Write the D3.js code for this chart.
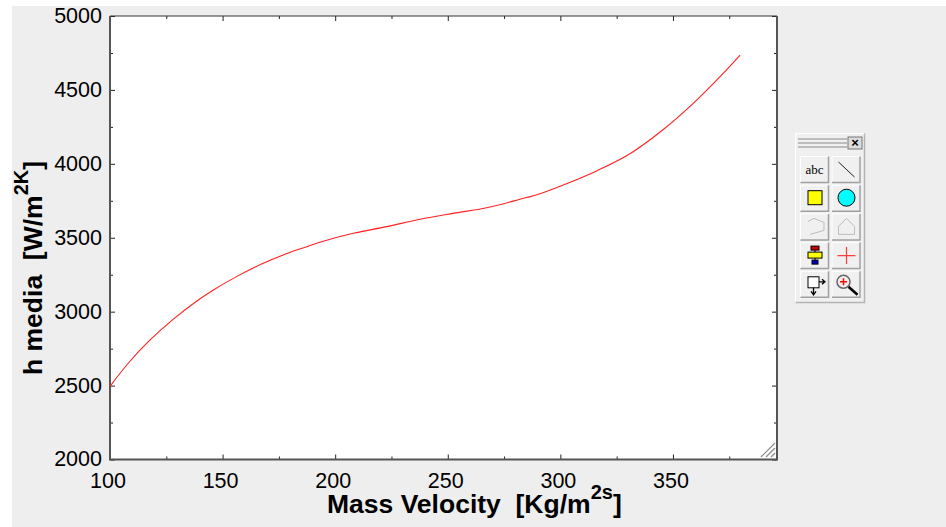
<!DOCTYPE html>
<html>
<head>
<meta charset="utf-8">
<script src="https://cdn.jsdelivr.net/npm/d3@7"></script>
<style>
html,body{margin:0;padding:0;background:#fff;overflow:hidden}
svg{display:block}
text{font-family:"Liberation Sans",Arial,sans-serif;fill:#000;white-space:pre}
.tick text{font-size:21.5px}
.title{font-size:26.5px;font-weight:bold}
.sup{font-size:20px}
</style>
</head>
<body>
<div id="chart"></div>
<script>
// values
var massVelocity = [100,108.1,117,128,139.2,145.9,156.2,167.3,179.2,186.6,193.2,208,222.8,237.7,252.4,267.3,282,290.9,301.3,316.1,330.9,345.7,359,372.3,379.8];
var hMedia = [2495,2651,2797,2948,3079,3147,3237,3322,3397,3436,3470,3530,3575,3625,3665,3703,3760,3798,3857,3952,4068,4232,4409,4612,4736];
var xMajor = [100,150,200,250,300,350];
var xMinor = [125,175,225,275,325,375];
var yMajor = [2000,2500,3000,3500,4000,4500,5000];
var yMinor = [2250,2750,3250,3750,4250,4750];
var toolButtons = ["abc","line","rect","circle","polyline","polygon","flow","cross","export","zoom"];

var width = 946, height = 527;
var plot = {left:110,right:777,top:16,bottom:459.5};

var svg = d3.select("#chart").append("svg")
    .attr("width",width)
    .attr("height",height);

svg.append("rect").attr("x",12).attr("y",6)
    .attr("width",width-12).attr("height",height-6)
    .attr("fill","#eeeeee");

svg.append("rect").attr("x",plot.left).attr("y",plot.top)
    .attr("width",plot.right-plot.left).attr("height",plot.bottom-plot.top)
    .attr("fill","#fff");

var x = d3.scaleLinear().domain([100,396.2]).range([plot.left,plot.right]);
var y = d3.scaleLinear().domain([2000,5000]).range([plot.bottom,plot.top]);

function styleAxis(g){
    g.select(".domain").remove();
    g.selectAll("line").attr("stroke","#222").attr("stroke-width",1);
}

//major ticks with labels
svg.append("g").attr("transform","translate(0,"+plot.bottom+")")
    .call(d3.axisBottom(x).tickValues(xMajor).tickFormat(d3.format("d")).tickSize(-5).tickPadding(13.5))
    .call(styleAxis)
    .call(g => g.selectAll("text").attr("dx",-2.5).attr("font-family",null).attr("font-size",null));
svg.append("g").attr("transform","translate("+plot.left+",0)")
    .call(d3.axisLeft(y).tickValues(yMajor).tickFormat(d3.format("d")).tickSize(-5).tickPadding(8))
    .call(styleAxis)
    .call(g => g.selectAll("text").attr("dy","0.3em").attr("font-family",null).attr("font-size",null));

//minor ticks, and the same marks on the top and right edges
svg.append("g").attr("transform","translate(0,"+plot.bottom+")")
    .call(d3.axisBottom(x).tickValues(xMinor).tickFormat("").tickSize(-3)).call(styleAxis);
svg.append("g").attr("transform","translate("+plot.left+",0)")
    .call(d3.axisLeft(y).tickValues(yMinor).tickFormat("").tickSize(-3)).call(styleAxis);
svg.append("g").attr("transform","translate(0,"+plot.top+")")
    .call(d3.axisTop(x).tickValues(xMajor).tickFormat("").tickSize(-5)).call(styleAxis);
svg.append("g").attr("transform","translate(0,"+plot.top+")")
    .call(d3.axisTop(x).tickValues(xMinor).tickFormat("").tickSize(-3)).call(styleAxis);
svg.append("g").attr("transform","translate("+plot.right+",0)")
    .call(d3.axisRight(y).tickValues(yMajor).tickFormat("").tickSize(-5)).call(styleAxis);
svg.append("g").attr("transform","translate("+plot.right+",0)")
    .call(d3.axisRight(y).tickValues(yMinor).tickFormat("").tickSize(-3)).call(styleAxis);

//frame
svg.append("path").attr("fill","none").attr("stroke","#333").attr("stroke-width",1.2)
    .attr("d","M"+plot.left+","+plot.top+"H"+plot.right);
svg.append("path").attr("fill","none").attr("stroke","#555").attr("stroke-width",2)
    .attr("d","M"+plot.left+","+plot.top+"V"+plot.bottom+"H"+plot.right+"V"+plot.top);

//curve
var line = d3.line().x((d,i) => x(massVelocity[i])).y(d => y(d)).curve(d3.curveCatmullRom);
svg.append("path").datum(hMedia)
    .attr("fill","none").attr("stroke","#ff2020").attr("stroke-width",1.1)
    .attr("d",line);

//resize grip
var grip = svg.append("g").attr("stroke","#8c8c8c").attr("stroke-width",1.2);
[0,5,10].forEach(function(o){
    grip.append("line").attr("x1",761+o).attr("y1",457).attr("x2",775).attr("y2",443+o);
});

//titles
var xTitle = svg.append("text").attr("class","title").attr("x",327).attr("y",512.5);
xTitle.append("tspan").text("Mass Velocity  [Kg/m");
xTitle.append("tspan").attr("class","sup").attr("dy",-14).text("2s");
xTitle.append("tspan").attr("dy",14).text("]");

var yTitle = svg.append("text").attr("class","title")
    .attr("transform","translate(41.5,375) rotate(-90)");
yTitle.append("tspan").text("h media  [W/m");
yTitle.append("tspan").attr("class","sup").attr("dy",-14).text("2K");
yTitle.append("tspan").attr("dy",14).text("]");

//floating toolbar
var tb = svg.append("g").attr("transform","translate(795,133)");
tb.append("rect").attr("width",70).attr("height",170).attr("fill","#f0f0f0");
tb.append("path").attr("d","M0.5,169.5V0.5H69.5").attr("fill","none").attr("stroke","#fff");
tb.append("path").attr("d","M0.5,169.5H69.5V0.5").attr("fill","none").attr("stroke","#b4b4b4").attr("stroke-width",1.5);
[5,9,13].forEach(function(o){
    tb.append("line").attr("x1",3).attr("x2",52).attr("y1",o+1).attr("y2",o+1).attr("stroke","#8a8a8a");
});
tb.append("rect").attr("x",53).attr("y",4).attr("width",14).attr("height",12).attr("fill","#ddd").attr("stroke","#777");
tb.append("text").attr("x",60).attr("y",14).attr("text-anchor","middle")
    .style("font-size","13px").style("font-weight","bold").text("×");

var cell = tb.selectAll("g.btn").data(toolButtons).enter().append("g")
    .attr("class","btn")
    .attr("transform",(d,i) => "translate("+(5+(i%2)*31.5)+","+(23+Math.floor(i/2)*28.7)+")");
cell.append("rect").attr("width",29).attr("height",27).attr("fill","#f0f0f0");
cell.append("path").attr("d","M0.5,26.5V0.5H28.5").attr("fill","none").attr("stroke","#fff");
cell.append("path").attr("d","M0.5,26.5H28.5V0.5").attr("fill","none").attr("stroke","#a0a0a0").attr("stroke-width",1.5);

function drawIcon(name,g){
    if(name=="abc"){
        g.append("text").attr("x",14.5).attr("y",18).attr("text-anchor","middle")
            .style("font-family","Liberation Serif").style("font-size","13px").text("abc");
    }else if(name=="line"){
        g.append("line").attr("x1",7).attr("y1",6).attr("x2",23).attr("y2",21).attr("stroke","#222");
    }else if(name=="rect"){
        g.append("rect").attr("x",8).attr("y",6).attr("width",14).attr("height",14).attr("fill","#ffff00").attr("stroke","#000");
    }else if(name=="circle"){
        g.append("circle").attr("cx",15).attr("cy",13).attr("r",8.5).attr("fill","#00ffff").attr("stroke","#000");
    }else if(name=="polyline"){
        g.append("path").attr("d","M8,8L14,5L24,9V17L10,21").attr("fill","none").attr("stroke","#bdbdbd");
    }else if(name=="polygon"){
        g.append("path").attr("d","M15,5L23,13V21H7V13Z").attr("fill","none").attr("stroke","#bdbdbd");
    }else if(name=="flow"){
        g.append("line").attr("x1",15).attr("y1",4).attr("x2",15).attr("y2",22).attr("stroke","#000");
        g.append("rect").attr("x",11).attr("y",4).attr("width",8).attr("height",4).attr("fill","#d00000").attr("stroke","#000");
        g.append("rect").attr("x",8).attr("y",10).attr("width",14).attr("height",6).attr("fill","#ffff00").attr("stroke","#000");
        g.append("rect").attr("x",12).attr("y",18).attr("width",6).attr("height",4).attr("fill","#0000c0").attr("stroke","#000");
    }else if(name=="cross"){
        g.append("path").attr("d","M15,5V22M6,13.5H24").attr("stroke","#ff3b3b").attr("stroke-width",1.2);
    }else if(name=="export"){
        g.append("rect").attr("x",8).attr("y",6).attr("width",11).attr("height",11).attr("fill","#fff").attr("stroke","#000");
        g.append("path").attr("d","M19,11H24M22,8.5L25,11L22,13.5M13.5,17V23M11,20.5L13.5,24L16,20.5").attr("fill","none").attr("stroke","#000").attr("stroke-width",1.3);
    }else if(name=="zoom"){
        g.append("line").attr("x1",17).attr("y1",16).attr("x2",26).attr("y2",24).attr("stroke","#000").attr("stroke-width",2.5);
        g.append("circle").attr("cx",12).attr("cy",11).attr("r",6.5).attr("fill","#eee").attr("stroke","#666").attr("stroke-width",1.5);
        g.append("path").attr("d","M12,7.5V14.5M8.5,11H15.5").attr("stroke","#ff0000").attr("stroke-width",1.5);
    }
}
cell.each(function(d){ drawIcon(d,d3.select(this)); });
</script>
</body>
</html>
